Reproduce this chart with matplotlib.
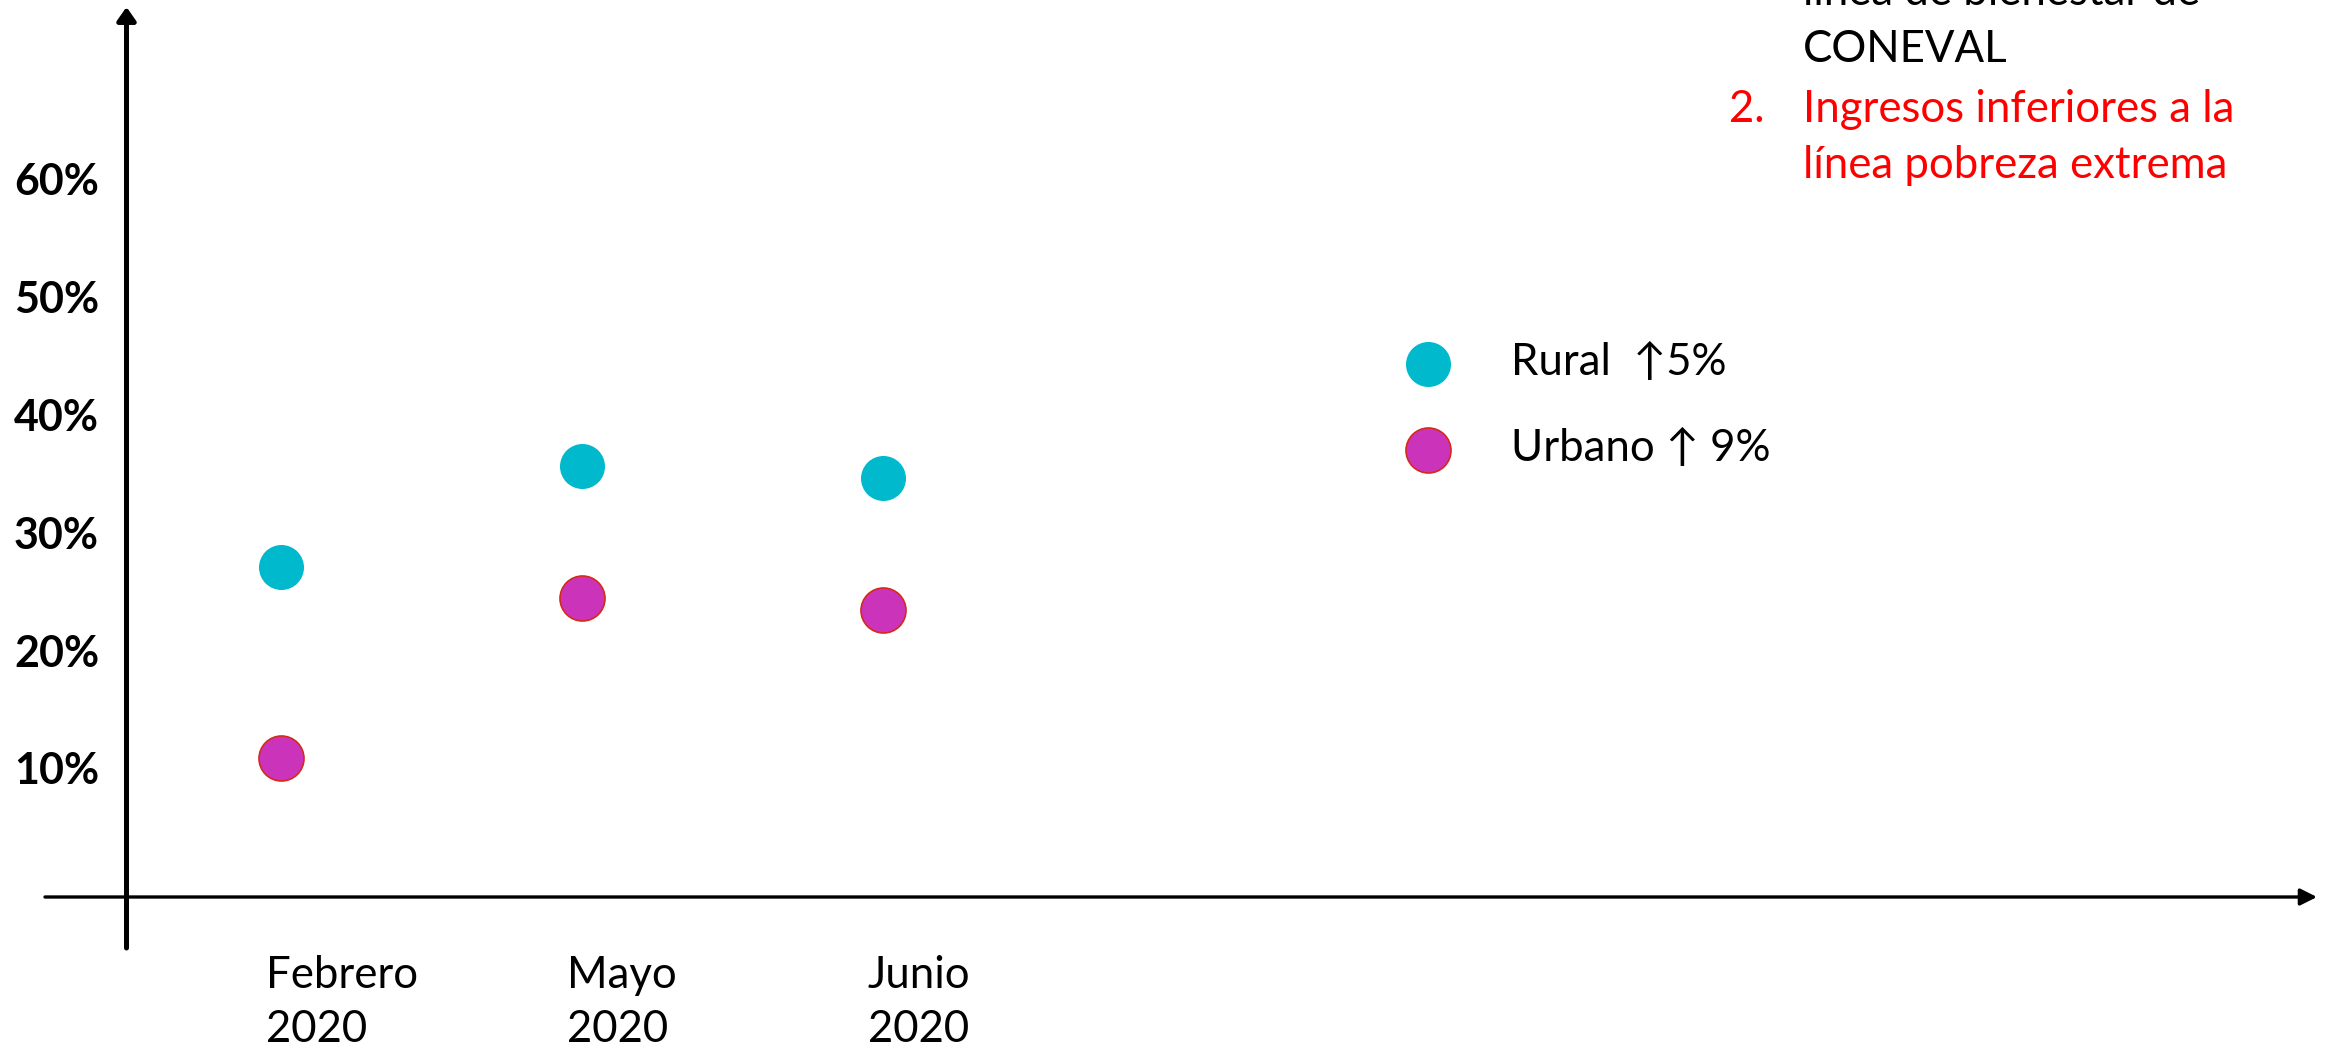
import matplotlib
matplotlib.use("Agg")
import matplotlib.pyplot as plt
from matplotlib import transforms

# ---------------- data ----------------
categories = ["Febrero\n2020", "Mayo\n2020", "Junio\n2020"]
rural = [26.9, 35.5, 34.5]
urbano = [10.7, 24.3, 23.3]
y_ticks = [10, 20, 30, 40, 50, 60]
y_tick_labels = ["10%", "20%", "30%", "40%", "50%", "60%"]
legend_labels = ["Rural  \u21915%", "Urbano \u2191 9%"]
note_black = ["línea de bienestar de", "CONEVAL"]
note_red_num = "2."
note_red = ["Ingresos inferiores a la", "línea pobreza extrema"]

# ---------------- layout ----------------
W, H = 2333, 1051
DPI = 100
TXT = ["Lato", "DejaVu Sans"]
FS = 31.5

fig = plt.figure(figsize=(W / DPI, H / DPI), dpi=DPI)
ax = fig.add_axes([0, 0, 1, 1])
ax.set_xlim(-0.932, 6.815)
ax.set_ylim(-14.13, 75.01)
ax.axis("off")

x = list(range(len(categories)))
ax.scatter(x, rural, s=1050, color="#00B9CC", linewidths=0,
           label=legend_labels[0], zorder=3)
ax.scatter(x, urbano, s=1050, color="#CC33BB", edgecolors="#D42A1A",
           linewidths=1.2, label=legend_labels[1], zorder=3)

# axis arrows (figure pixels)
ax.annotate("", xy=(126.5, H - 7), xytext=(126.5, H - 948),
            xycoords="figure pixels", textcoords="figure pixels",
            arrowprops=dict(arrowstyle="-|>,head_length=0.4,head_width=0.28",
                            lw=3.6, color="black", shrinkA=0, shrinkB=0,
                            mutation_scale=20))
ax.annotate("", xy=(2317, H - 897), xytext=(45, H - 897),
            xycoords="figure pixels", textcoords="figure pixels",
            arrowprops=dict(arrowstyle="-|>,head_length=0.5,head_width=0.25",
                            lw=2.4, color="black", shrinkA=0, shrinkB=0,
                            mutation_scale=20))

# y tick labels
ytrans = transforms.blended_transform_factory(ax.transAxes, ax.transData)
ytrans = transforms.offset_copy(ytrans, fig=fig, x=0, y=-18, units="dots")
for v, lab in zip(y_ticks, y_tick_labels):
    ax.text(99 / W, v, lab, transform=ytrans, ha="right", va="baseline",
            fontsize=31, fontweight="bold", family=TXT)

# x category labels (baseline of the last line)
xtrans = transforms.blended_transform_factory(ax.transData, ax.transAxes)
xtrans = transforms.offset_copy(xtrans, fig=fig, x=-15, y=0, units="dots")
for xi, lab in zip(x, categories):
    ax.text(xi, 1 - 1042 / H, lab, transform=xtrans, ha="left", va="baseline",
            fontsize=FS, family=TXT, linespacing=1.40)

# legend
ax.legend(loc="upper left", bbox_to_anchor=(1402 / W, 1 - 342 / H),
          frameon=False, prop=dict(family=TXT, size=FS), handlelength=1.2,
          handletextpad=1.29, labelspacing=1.03, borderpad=0, borderaxespad=0,
          scatterpoints=1)

# note in the upper right
fig.text(1803 / W, 1 - 5 / H, note_black[0], ha="left", va="baseline",
         fontsize=FS, family=TXT, color="black")
fig.text(1803 / W, 1 - 62.5 / H, note_black[1], ha="left", va="baseline",
         fontsize=FS, family=TXT, color="black")
fig.text(1729 / W, 1 - 122 / H, note_red_num, ha="left", va="baseline",
         fontsize=FS, family=TXT, color="#FF0000")
fig.text(1803 / W, 1 - 122 / H, note_red[0], ha="left", va="baseline",
         fontsize=FS, family=TXT, color="#FF0000")
fig.text(1803 / W, 1 - 178.5 / H, note_red[1], ha="left", va="baseline",
         fontsize=FS, family=TXT, color="#FF0000")

fig.savefig("out.png", dpi=DPI, facecolor="white")
